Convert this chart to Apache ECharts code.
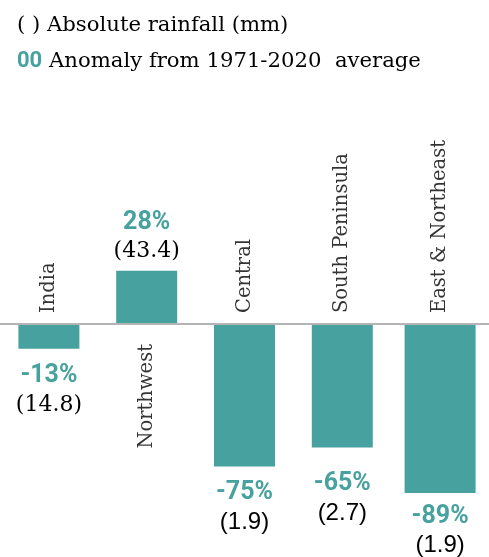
<!DOCTYPE html>
<html>
<head>
<meta charset="utf-8">
<script src="https://cdn.jsdelivr.net/npm/echarts@6/dist/echarts.min.js"></script>
<style>
  html, body { margin: 0; padding: 0; background: #fff; }
  #chart { width: 489px; height: 557px; }
</style>
</head>
<body>
<div id="chart"></div>
<script>
// data
const regions = ['India', 'Northwest', 'Central', 'South Peninsula', 'East & Northeast'];
const anomaly = [-13, 28, -75, -65, -89];          // % from 1971-2020 average
const rainfall = ['14.8', '43.4', '1.9', '2.7', '1.9']; // absolute rainfall (mm)

// styling only
const TEAL = '#47a29f';
const absFont = ['serif', 'serif', 'sans', 'sans', 'sans'];
const labelGap = [13, 5, 12, 22, 9]; // space between bar end and its label
const wideIdx = 4; // last bar is drawn a bit wider in the original

const chart = echarts.init(document.getElementById('chart'));

const barLabel = {
  show: true,
  formatter: p => `{pct|${p.value}%}\n{${absFont[p.dataIndex]}|(${rainfall[p.dataIndex]})}`,
  rich: {
    pct: { fontFamily: 'Roboto', fontWeight: 'bold', fontSize: 25, color: TEAL, lineHeight: 29 },
    serif: { fontFamily: 'DejaVu Serif', fontSize: 22, color: '#000', lineHeight: 29 },
    sans: { fontFamily: 'Liberation Sans', fontSize: 24, color: '#000', lineHeight: 29 }
  }
};

const barItem = (v, i) => ({
  value: v,
  label: { position: v < 0 ? 'bottom' : 'top', distance: labelGap[i] }
});

const options = {
  animation: false,
  title: {
    left: 12,
    top: 2,
    text: '( ) Absolute rainfall (mm)\n{z|00} Anomaly from 1971-2020  average',
    textStyle: {
      fontFamily: 'DejaVu Serif',
      fontSize: 21.2,
      fontWeight: 'normal',
      color: '#000',
      lineHeight: 36,
      rich: {
        z: { fontFamily: 'Roboto', fontWeight: 'bold', fontSize: 22, color: TEAL, lineHeight: 36 }
      }
    }
  },
  grid: { left: 0, right: 0, top: 134, bottom: 43 },
  xAxis: [
    {
      type: 'category',
      data: regions,
      z: 5,
      axisLine: { lineStyle: { color: '#b5b5b5', width: 2 } },
      axisTick: { show: false },
      axisLabel: { show: false }
    },
    { type: 'category', data: regions, show: false }
  ],
  yAxis: { type: 'value', min: -100, max: 100, show: false },
  series: [
    {
      type: 'bar',
      barWidth: 61,
      data: anomaly.map((v, i) => (i === wideIdx ? '-' : barItem(v, i))),
      itemStyle: { color: TEAL },
      label: barLabel
    },
    {
      type: 'bar',
      xAxisIndex: 1,
      barWidth: 71,
      data: anomaly.map((v, i) => (i === wideIdx ? barItem(v, i) : '-')),
      itemStyle: { color: TEAL },
      label: barLabel
    },
    // region names, set on the opposite side of the baseline
    {
      type: 'scatter',
      symbolSize: 0,
      silent: true,
      data: anomaly.map(v => ({
        value: 0,
        label: {
          position: v < 0 ? 'top' : 'bottom',
          align: v < 0 ? 'left' : 'right',
          distance: v < 0 ? 11 : 20
        }
      })),
      label: {
        show: true,
        rotate: 90,
        verticalAlign: 'middle',
        formatter: p => regions[p.dataIndex],
        fontFamily: 'DejaVu Serif',
        fontSize: 19.5,
        color: '#000'
      }
    }
  ]
};

chart.setOption(options);
</script>
</body>
</html>
